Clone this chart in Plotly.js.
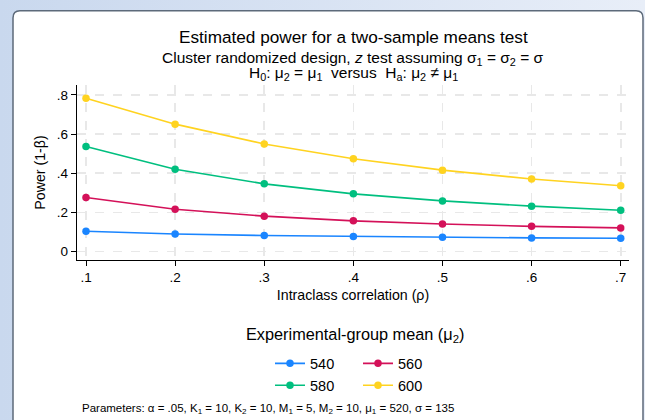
<!DOCTYPE html>
<html>
<head>
<meta charset="utf-8">
<script src="https://cdn.plot.ly/plotly-3.0.1.min.js"></script>
<style>
html,body{margin:0;padding:0;}
#wrap{width:645px;height:420px;background:linear-gradient(to right,#c9d8ee,#e8eef8);}
#chart{width:645px;height:420px;}
</style>
</head>
<body>
<div id="wrap"><div id="chart"></div></div>
<script>
// Data
const rho = [0.1, 0.2, 0.3, 0.4, 0.5, 0.6, 0.7];
const power540 = [0.104, 0.090, 0.082, 0.077, 0.073, 0.070, 0.068];
const power560 = [0.276, 0.216, 0.181, 0.157, 0.141, 0.129, 0.121];
const power580 = [0.537, 0.421, 0.346, 0.295, 0.259, 0.232, 0.211];
const power600 = [0.783, 0.651, 0.550, 0.474, 0.416, 0.371, 0.336];
const seriesNames = ['540', '560', '580', '600'];
const xTickVals = [0.1, 0.2, 0.3, 0.4, 0.5, 0.6, 0.7];
const xTickText = ['.1', '.2', '.3', '.4', '.5', '.6', '.7'];
const yTickVals = [0, 0.2, 0.4, 0.6, 0.8];
const yTickText = ['0', '.2', '.4', '.6', '.8'];

const colors = ['#1a85ff', '#d41159', '#00bf7f', '#ffd320'];
const values = [power540, power560, power580, power600];
const legendFor = ['legend', 'legend2', 'legend', 'legend2'];

const FONT = 'Liberation Sans, Arial, sans-serif';

const traces = values.map((v, i) => ({
  x: rho, y: v, name: seriesNames[i], type: 'scatter', mode: 'lines+markers',
  line: {color: colors[i], width: 1.6},
  marker: {color: colors[i], size: 7.5},
  legend: legendFor[i]
}));

// pixel helpers for the plot area (l=77, r=629, t=85, b=259.7)
const L = 77, R = 629, T = 85, B = 259.7;
const px = x => (x - L) / (R - L);
const py = y => (B - y) / (B - T);

const x0 = px(13), x1 = px(643), yt = py(11), yb = py(440);
const rx = 7 / (R - L), ry = 7 / (B - T);
const panelPath = `M${x0},${yb} L${x0},${yt - ry} Q${x0},${yt} ${x0 + rx},${yt} L${x1 - rx},${yt} Q${x1},${yt} ${x1},${yt - ry} L${x1},${yb} Z`;

const layout = {
  width: 645, height: 420,
  margin: {l: L, r: 645 - R, t: T, b: 420 - B},
  paper_bgcolor: 'rgba(0,0,0,0)',
  plot_bgcolor: 'rgba(0,0,0,0)',
  font: {family: FONT, color: '#000'},
  showlegend: true,
  xaxis: {
    range: [0.0899, 0.7093], tickvals: xTickVals, ticktext: xTickText,
    showline: true, linecolor: '#000', linewidth: 1.2, mirror: false,
    ticks: 'outside', ticklen: 5, tickcolor: '#000', tickwidth: 1,
    tickfont: {size: 13.5, family: FONT},
    showgrid: true, gridcolor: '#e8e8e8', gridwidth: 1.6, griddash: 'dash',
    zeroline: false,
    title: {text: 'Intraclass correlation (ρ)', font: {size: 14.2, family: FONT}, standoff: 5}
  },
  yaxis: {
    range: [-0.043, 0.851], tickvals: yTickVals, ticktext: yTickText,
    showline: true, linecolor: '#000', linewidth: 1.2,
    ticks: 'outside', ticklen: 5, tickcolor: '#000', tickwidth: 1,
    tickfont: {size: 13.5, family: FONT},
    showgrid: true, gridcolor: '#e8e8e8', gridwidth: 1.6, griddash: 'dash',
    zeroline: false,
    title: {text: 'Power (1-β)', font: {size: 14.2, family: FONT}, standoff: 7}
  },
  legend: {x: px(270), y: py(347), xanchor: 'left', yanchor: 'top',
    bgcolor: 'rgba(0,0,0,0)', font: {size: 14.5, family: FONT}, orientation: 'v'},
  legend2: {x: px(358), y: py(347), xanchor: 'left', yanchor: 'top',
    bgcolor: 'rgba(0,0,0,0)', font: {size: 14.5, family: FONT}, orientation: 'v'},
  shapes: [{type: 'path', xref: 'paper', yref: 'paper', path: panelPath,
    fillcolor: '#ffffff', line: {color: '#5d6a7a', width: 1.5}, layer: 'below'}],
  annotations: [
    {text: 'Estimated power for a two-sample means test', xref: 'paper', yref: 'paper',
     x: 0.5, y: py(37), xanchor: 'center', yanchor: 'middle', showarrow: false,
     font: {size: 17.2, family: FONT}},
    {text: 'Cluster randomized design, <i>z</i> test assuming σ<sub>1</sub> = σ<sub>2</sub> = σ', xref: 'paper', yref: 'paper',
     x: 0.5, y: py(59), xanchor: 'center', yanchor: 'middle', showarrow: false,
     font: {size: 15.5, family: FONT}},
    {text: 'H<sub>0</sub>: μ<sub>2</sub> = μ<sub>1</sub>  versus  H<sub>a</sub>: μ<sub>2</sub> ≠ μ<sub>1</sub>', xref: 'paper', yref: 'paper',
     x: 0.5, y: py(73.5), xanchor: 'center', yanchor: 'middle', showarrow: false,
     font: {size: 15.5, family: FONT}},
    {text: 'Experimental-group mean (μ<sub>2</sub>)', xref: 'paper', yref: 'paper',
     x: px(355), y: py(335), xanchor: 'center', yanchor: 'middle', showarrow: false,
     font: {size: 16.3, family: FONT}},
    {text: 'Parameters: α = .05, K<sub>1</sub> = 10, K<sub>2</sub> = 10, M<sub>1</sub> = 5, M<sub>2</sub> = 10, μ<sub>1</sub> = 520, σ = 135', xref: 'paper', yref: 'paper',
     x: px(80), y: py(408), xanchor: 'left', yanchor: 'middle', showarrow: false,
     font: {size: 11.5, family: FONT}}
  ]
};

Plotly.newPlot('chart', traces, layout, {displayModeBar: false, staticPlot: true});
</script>
</body>
</html>
